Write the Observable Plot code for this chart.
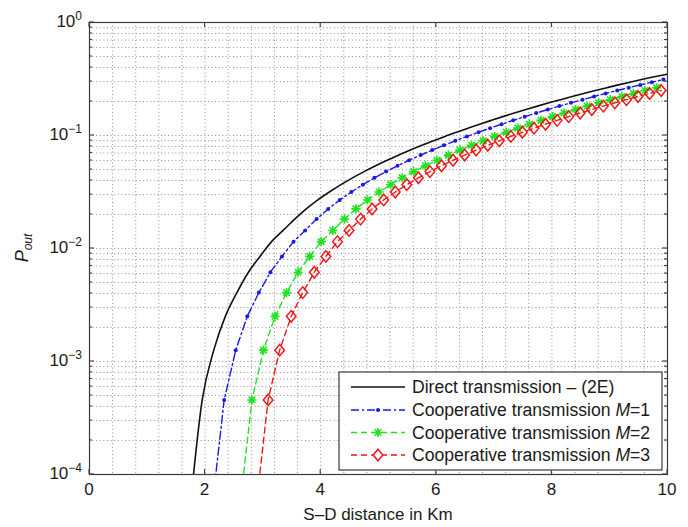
<!DOCTYPE html>
<html>
<head>
<meta charset="utf-8">
<script src="https://cdn.jsdelivr.net/npm/d3@7"></script>
<script src="https://cdn.jsdelivr.net/npm/@observablehq/plot@0.6"></script>
<style>
  html, body { margin: 0; padding: 0; background: #fff; }
  #chart svg { display: block; }
</style>
</head>
<body>
<div id="chart"></div>
<script>
// ---------------- data ----------------
const xTicks = [0, 2, 4, 6, 8, 10];
const xTickLabels = ["0", "2", "4", "6", "8", "10"];
const yTicks = [1e-4, 1e-3, 1e-2, 1e-1, 1];
const yTickExponents = ["\u22124", "\u22123", "\u22122", "\u22121", "0"];
const xGrid = [0.4, 0.8, 1.2, 1.6, 2, 2.4, 2.8, 3.2, 3.6, 4, 4.4, 4.8, 5.2, 5.6, 6, 6.4, 6.8, 7.2, 7.6, 8, 8.4, 8.8, 9.2, 9.6];
const yGrid = [2e-4, 3e-4, 4e-4, 5e-4, 6e-4, 7e-4, 8e-4, 9e-4, 1e-3,
               2e-3, 3e-3, 4e-3, 5e-3, 6e-3, 7e-3, 8e-3, 9e-3, 1e-2,
               2e-2, 3e-2, 4e-2, 5e-2, 6e-2, 7e-2, 8e-2, 9e-2, 1e-1,
               0.2, 0.3, 0.4, 0.5, 0.6, 0.7, 0.8, 0.9];
const yMinorTicks = [2e-4, 3e-4, 4e-4, 5e-4, 6e-4, 7e-4, 8e-4, 9e-4,
                     2e-3, 3e-3, 4e-3, 5e-3, 6e-3, 7e-3, 8e-3, 9e-3,
                     2e-2, 3e-2, 4e-2, 5e-2, 6e-2, 7e-2, 8e-2, 9e-2,
                     0.2, 0.3, 0.4, 0.5, 0.6, 0.7, 0.8, 0.9];

const seriesNames = ["Direct transmission \u2013 (2E)", "Cooperative transmission ", "Cooperative transmission ", "Cooperative transmission "];
const seriesM = ["", "1", "2", "3"];

// Direct transmission (2E)
const directX = [1.75, 1.95, 2.15, 2.35, 2.55, 2.75, 2.95, 3.15, 3.35, 3.55, 3.75, 3.95, 4.15, 4.35, 4.55, 4.75,
                 4.95, 5.15, 5.35, 5.55, 5.75, 5.95, 6.15, 6.35, 6.55, 6.75, 6.95, 7.15, 7.35, 7.55, 7.75, 7.95,
                 8.15, 8.35, 8.55, 8.75, 8.95, 9.15, 9.35, 9.55, 9.75, 9.95, 10.0];
const directP = [5.62e-5, 4.57e-4, 1.26e-3, 2.51e-3, 4.07e-3, 6.17e-3, 8.51e-3, 0.0115, 0.01445, 0.0182, 0.0224,
                 0.0269, 0.0316, 0.0367, 0.0422, 0.0479, 0.0540, 0.0604, 0.0671, 0.0743, 0.0819,
                 0.0897, 0.0982, 0.1069, 0.1161, 0.1259, 0.1361, 0.1469, 0.1581, 0.1698, 0.1820,
                 0.1945, 0.2075, 0.2213, 0.2355, 0.2500, 0.2649, 0.2805, 0.2965, 0.3126, 0.3289, 0.3451, 0.3491];

// Cooperative M=1
const m1X = [2.13, 2.33, 2.53, 2.73, 2.93, 3.13, 3.33, 3.53, 3.73, 3.93, 4.13, 4.33, 4.53, 4.73, 4.93, 5.13,
             5.33, 5.53, 5.73, 5.93, 6.13, 6.33, 6.53, 6.73, 6.93, 7.13, 7.33, 7.53, 7.73, 7.93, 8.13, 8.33,
             8.53, 8.73, 8.93, 9.13, 9.33, 9.53, 9.73, 9.93];
const m1P = [5.62e-5, 4.57e-4, 1.26e-3, 2.51e-3, 4.07e-3, 6.17e-3, 8.51e-3, 0.0115, 0.01445, 0.0182, 0.0224,
             0.0269, 0.0316, 0.0367, 0.0422, 0.0479, 0.0540, 0.0604, 0.0671, 0.0743, 0.0819,
             0.0897, 0.0982, 0.1069, 0.1161, 0.1259, 0.1361, 0.1469, 0.1581, 0.1698, 0.1820,
             0.1945, 0.2075, 0.2213, 0.2355, 0.2500, 0.2649, 0.2805, 0.2965, 0.3126];

// Cooperative M=2
const m2X = [2.61, 2.81, 3.01, 3.21, 3.41, 3.61, 3.81, 4.01, 4.21, 4.41, 4.61, 4.81, 5.01, 5.21, 5.41, 5.61,
             5.81, 6.01, 6.21, 6.41, 6.61, 6.81, 7.01, 7.21, 7.41, 7.61, 7.81, 8.01, 8.21, 8.41, 8.61, 8.81,
             9.01, 9.21, 9.41, 9.61, 9.81];
const m2P = [5.62e-5, 4.57e-4, 1.26e-3, 2.51e-3, 4.07e-3, 6.17e-3, 8.51e-3, 0.0115, 0.01445, 0.0182, 0.0224,
             0.0269, 0.0316, 0.0367, 0.0422, 0.0479, 0.0540, 0.0604, 0.0671, 0.0743, 0.0819,
             0.0897, 0.0982, 0.1069, 0.1161, 0.1259, 0.1361, 0.1469, 0.1581, 0.1698, 0.1820,
             0.1945, 0.2075, 0.2213, 0.2355, 0.2500, 0.2649];

// Cooperative M=3
const m3X = [2.89, 3.09, 3.29, 3.49, 3.69, 3.89, 4.09, 4.29, 4.49, 4.69, 4.89, 5.09, 5.29, 5.49, 5.69, 5.89,
             6.09, 6.29, 6.49, 6.69, 6.89, 7.09, 7.29, 7.49, 7.69, 7.89, 8.09, 8.29, 8.49, 8.69, 8.89, 9.09,
             9.29, 9.49, 9.69, 9.89];
const m3P = [5.62e-5, 4.57e-4, 1.26e-3, 2.51e-3, 4.07e-3, 6.17e-3, 8.51e-3, 0.0115, 0.01445, 0.0182, 0.0224,
             0.0269, 0.0316, 0.0367, 0.0422, 0.0479, 0.0540, 0.0604, 0.0671, 0.0743, 0.0819,
             0.0897, 0.0982, 0.1069, 0.1161, 0.1259, 0.1361, 0.1469, 0.1581, 0.1698, 0.1820,
             0.1945, 0.2075, 0.2213, 0.2355, 0.2500];

(function () {
// ---------------- styling ----------------
const FONT = "'Liberation Sans', Arial, Helvetica, sans-serif";
const BLACK = "#111111", BLUE = "#1a1ae6", GREEN = "#22e022", RED = "#f01616";
const AXIS = "#3a3a3a", GRID = "#8f8f8f";

const starSymbol = {
  draw(ctx, size) {
    const r = Math.sqrt(size / Math.PI), d = r * Math.SQRT1_2;
    ctx.moveTo(-r, 0); ctx.lineTo(r, 0);
    ctx.moveTo(0, -r); ctx.lineTo(0, r);
    ctx.moveTo(-d, -d); ctx.lineTo(d, d);
    ctx.moveTo(-d, d); ctx.lineTo(d, -d);
  }
};
const diamondSymbol = {
  draw(ctx, size) {
    const r = Math.sqrt(size / Math.PI);
    ctx.moveTo(0, -1.2 * r); ctx.lineTo(r, 0); ctx.lineTo(0, 1.2 * r); ctx.lineTo(-r, 0); ctx.closePath();
  }
};

const toRows = (xs, ps) => xs.map((x, i) => ({x, p: ps[i]}));
const direct = toRows(directX, directP);
const m1 = toRows(m1X, m1P);
const m2 = toRows(m2X, m2P);
const m3 = toRows(m3X, m3P);
const visible = d => d.p >= 1e-4;

const dashM1 = "8,3,2,3";
const dashM23 = "6,4";

const chart = Plot.plot({
  width: 688,
  height: 527,
  marginLeft: 89,
  marginRight: 21,
  marginTop: 22,
  marginBottom: 53,
  style: {background: "#fff", fontFamily: FONT, fontSize: "17px", color: "#1a1a1a"},
  x: {domain: [0, 10], axis: null},
  y: {type: "log", domain: [1e-4, 1], axis: null},
  marks: [
    Plot.ruleX(xGrid, {x: d => d, stroke: GRID, strokeWidth: 1, strokeDasharray: "1,2.6"}),
    Plot.ruleY(yGrid, {y: d => d, stroke: GRID, strokeWidth: 1, strokeDasharray: "1,2.6"}),
    Plot.line(direct, {x: "x", y: "p", stroke: BLACK, strokeWidth: 1.6, curve: "monotone-x", clip: true}),
    Plot.line(m1, {x: "x", y: "p", stroke: BLUE, strokeWidth: 1.4, strokeDasharray: dashM1, clip: true}),
    Plot.dot(m1, {x: "x", y: "p", filter: visible, r: 2, fill: BLUE, stroke: "none", clip: true}),
    Plot.line(m2, {x: "x", y: "p", stroke: GREEN, strokeWidth: 1.4, strokeDasharray: dashM23, clip: true}),
    Plot.dot(m2, {x: "x", y: "p", filter: visible, symbol: starSymbol, r: 4.6, fill: "none", stroke: GREEN, strokeWidth: 1.6, clip: true}),
    Plot.line(m3, {x: "x", y: "p", stroke: RED, strokeWidth: 1.4, strokeDasharray: dashM23, clip: true}),
    Plot.dot(m3, {x: "x", y: "p", filter: visible, symbol: diamondSymbol, r: 4.8, fill: "none", stroke: RED, strokeWidth: 1.5, clip: true}),
    Plot.frame({stroke: AXIS, strokeWidth: 1.2})
  ]
});

document.getElementById("chart").appendChild(chart);

// ---------------- axes, ticks, labels, legend (using Plot's scales) ----------------
const sx = chart.scale("x"), sy = chart.scale("y");
const X = v => sx.apply(v), Y = v => sy.apply(v);
const svg = d3.select(chart);
const xLeft = X(0), xRight = X(10), yBottom = Y(1e-4), yTop = Y(1);

const ticks = svg.append("g").attr("stroke", AXIS).attr("stroke-width", 1.1);
xTicks.forEach(v => {
  ticks.append("line").attr("x1", X(v)).attr("x2", X(v)).attr("y1", yBottom).attr("y2", yBottom - 5);
  ticks.append("line").attr("x1", X(v)).attr("x2", X(v)).attr("y1", yTop).attr("y2", yTop + 5);
});
yTicks.forEach(v => {
  ticks.append("line").attr("x1", xLeft).attr("x2", xLeft + 5).attr("y1", Y(v)).attr("y2", Y(v));
  ticks.append("line").attr("x1", xRight).attr("x2", xRight - 5).attr("y1", Y(v)).attr("y2", Y(v));
});
yMinorTicks.forEach(v => {
  ticks.append("line").attr("x1", xLeft).attr("x2", xLeft + 3).attr("y1", Y(v)).attr("y2", Y(v));
  ticks.append("line").attr("x1", xRight).attr("x2", xRight - 3).attr("y1", Y(v)).attr("y2", Y(v));
});

const txt = svg.append("g").attr("font-family", FONT).attr("fill", "#1a1a1a");
xTicks.forEach((v, i) => {
  txt.append("text").attr("x", X(v)).attr("y", yBottom + 21).attr("text-anchor", "middle")
    .attr("font-size", 17).text(xTickLabels[i]);
});
yTicks.forEach((v, i) => {
  const t = txt.append("text").attr("x", xLeft - 7).attr("y", Y(v)).attr("text-anchor", "end").attr("font-size", 17);
  t.append("tspan").attr("dy", "0.3em").text("10");
  t.append("tspan").attr("dy", "-0.62em").attr("font-size", 12).text(yTickExponents[i]);
});
txt.append("text").attr("x", (xLeft + xRight) / 2).attr("y", 520).attr("text-anchor", "middle")
  .attr("font-size", 17).text("S\u2013D distance in Km");
const yt = txt.append("text").attr("transform", `translate(${28},${(yTop + yBottom) / 2}) rotate(-90)`)
  .attr("text-anchor", "middle").attr("font-size", 18).attr("font-style", "italic");
yt.append("tspan").text("P");
yt.append("tspan").attr("dy", "0.35em").attr("font-size", 12).text("out");

// legend
const lg = svg.append("g").attr("font-family", FONT);
const lx = 339, ly = 372, lw = 323, lh = 98;
lg.append("rect").attr("x", lx).attr("y", ly).attr("width", lw).attr("height", lh)
  .attr("fill", "#fff").attr("stroke", AXIS).attr("stroke-width", 1.2);
const rowY = [387, 410, 432.5, 455];
const styles = [
  {stroke: BLACK, dash: null, sym: null},
  {stroke: BLUE, dash: dashM1, sym: "dot"},
  {stroke: GREEN, dash: dashM23, sym: starSymbol},
  {stroke: RED, dash: dashM23, sym: diamondSymbol}
];
const lineX1 = 351, lineX2 = 405, markX = 378, textX = 412;
styles.forEach((s, i) => {
  const y = rowY[i];
  lg.append("line").attr("x1", lineX1).attr("x2", lineX2).attr("y1", y).attr("y2", y)
    .attr("stroke", s.stroke).attr("stroke-width", i === 0 ? 1.6 : 1.4)
    .attr("stroke-dasharray", s.dash);
  if (s.sym === "dot") {
    lg.append("circle").attr("cx", markX).attr("cy", y).attr("r", 2).attr("fill", s.stroke);
  } else if (s.sym) {
    const r = i === 2 ? 4.6 : 4.8;
    lg.append("path").attr("transform", `translate(${markX},${y})`)
      .attr("d", d3.symbol(s.sym, Math.PI * r * r)())
      .attr("fill", i === 3 ? "#fff" : "none").attr("stroke", s.stroke).attr("stroke-width", i === 2 ? 1.6 : 1.5);
  }
  const t = lg.append("text").attr("x", textX).attr("y", y).attr("dy", "0.35em")
    .attr("text-anchor", "start").attr("font-size", 17.6).attr("fill", "#1a1a1a");
  t.append("tspan").text(seriesNames[i]);
  if (seriesM[i]) {
    t.append("tspan").attr("font-style", "italic").text("M");
    t.append("tspan").text("=" + seriesM[i]);
  }
});
})();
</script>
</body>
</html>
